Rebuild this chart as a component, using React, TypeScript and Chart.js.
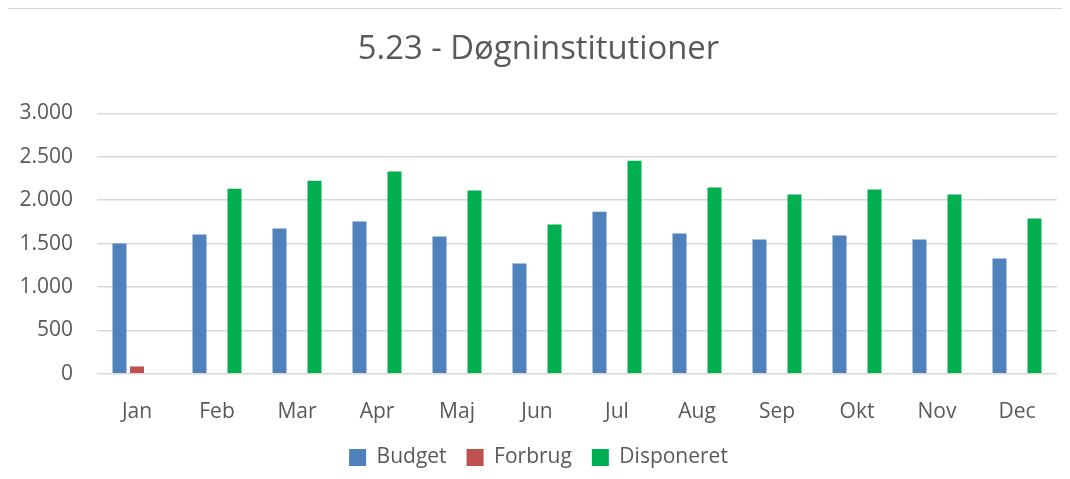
import React, { useEffect, useRef } from "react";
import { Chart, registerables } from "chart.js";

Chart.register(...registerables);

const months = ["Jan", "Feb", "Mar", "Apr", "Maj", "Jun", "Jul", "Aug", "Sep", "Okt", "Nov", "Dec"];
const budget = [1500, 1605, 1675, 1755, 1582, 1270, 1868, 1615, 1546, 1592, 1546, 1327];
const forbrug = [84, null, null, null, null, null, null, null, null, null, null, null];
const disponeret = [null, 2133, 2225, 2329, 2110, 1719, 2455, 2145, 2064, 2122, 2064, 1788];
const yTicks = [0, 500, 1000, 1500, 2000, 2500, 3000];
const title = "5.23 - Døgninstitutioner";

const fmt = (v: number) => String(v).replace(/\B(?=(\d{3})+(?!\d))/g, ".");

export default function App() {
  const ref = useRef<HTMLCanvasElement | null>(null);
  useEffect(() => {
    if (!ref.current) return;
    const font = "'Open Sans', sans-serif";
    const chart = new Chart(ref.current, {
      type: "bar",
      data: {
        labels: months,
        datasets: [
          { label: "Budget", data: budget, backgroundColor: "#4f81bd" },
          { label: "Forbrug", data: forbrug, backgroundColor: "#c0504d" },
          { label: "Disponeret", data: disponeret, backgroundColor: "#00b050" },
        ],
      },
      options: {
        animation: false,
        responsive: true,
        maintainAspectRatio: false,
        datasets: { bar: { categoryPercentage: 0.656, barPercentage: 0.8 } },
        layout: { padding: { left: 12, right: 13, top: 0, bottom: 11 } },
        plugins: {
          title: {
            display: true,
            text: title,
            color: "#595959",
            font: { family: font, size: 32.8, weight: "normal" },
            padding: { top: 21, bottom: 44 },
          },
          legend: {
            position: "bottom",
            labels: {
              color: "#595959",
              font: { family: font, size: 21 },
              boxWidth: 17,
              boxHeight: 17,
              padding: 20,
            },
          },
          tooltip: { enabled: false },
        },
        scales: {
          x: {
            grid: { display: false },
            border: { display: false },
            ticks: { color: "#595959", font: { family: font, size: 21 }, padding: 18 },
            afterFit: (axis: any) => {
              axis.height = axis.height - 16;
            },
          },
          y: {
            min: 0,
            max: 3000,
            afterBuildTicks: (axis: any) => {
              axis.ticks = yTicks.map((v) => ({ value: v }));
            },
            afterFit: (axis: any) => {
              axis.width = 77;
            },
            grid: { color: "#d9d9d9", lineWidth: 1.5, drawTicks: false },
            border: { display: false },
            ticks: {
              color: "#595959",
              font: { family: font, size: 21 },
              padding: 24,
              callback: (v: any) => fmt(Number(v)),
            },
          },
        },
      },
    });
    return () => chart.destroy();
  }, []);
  return (
    <div
      style={{
        width: 1062,
        height: 480,
        border: "1px solid #d9d9d9",
        marginLeft: -1,
        position: "relative",
        background: "#fff",
      }}
    >
      <canvas ref={ref} />
    </div>
  );
}
